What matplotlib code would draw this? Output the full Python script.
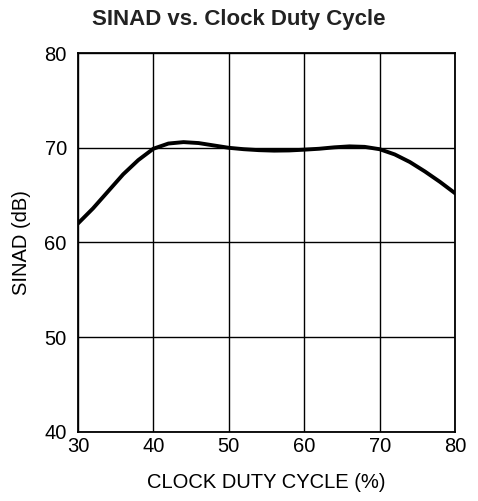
import matplotlib
matplotlib.use("Agg")
import matplotlib.pyplot as plt

# data
duty = [30, 32, 34, 36, 38, 40, 42, 44, 46, 48, 50, 52, 54, 56, 58,
        60, 62, 64, 66, 68, 70, 72, 74, 76, 78, 80]
sinad = [62.0, 63.6, 65.4, 67.2, 68.7, 69.9, 70.45, 70.6, 70.5, 70.25, 70.0,
         69.85, 69.75, 69.7, 69.72, 69.8, 69.9, 70.05, 70.15, 70.1, 69.85,
         69.3, 68.5, 67.5, 66.4, 65.2]
xticks = [30, 40, 50, 60, 70, 80]
yticks = [40, 50, 60, 70, 80]

plt.rcParams['font.family'] = ['Liberation Sans', 'DejaVu Sans']

fig = plt.figure(figsize=(4.78, 5.01), dpi=100)
ax = fig.add_axes([0.163, 0.138, 0.789, 0.756])

ax.plot(duty, sinad, color='black', linewidth=2.8, solid_joinstyle='round')

ax.set_xlim(30, 80)
ax.set_ylim(40, 80)
ax.set_xticks(xticks)
ax.set_yticks(yticks)
ax.grid(True, color='black', linewidth=1.0)
ax.tick_params(length=0, labelsize=14.5, colors='black')
ax.tick_params(axis='x', pad=4)
ax.tick_params(axis='y', pad=8)
for s in ax.spines.values():
    s.set_linewidth(1.3)

ax.set_xlabel('CLOCK DUTY CYCLE (%)', fontsize=14.5, labelpad=12)
ax.set_ylabel('SINAD (dB)', fontsize=14.5, labelpad=10)
fig.text(0.5, 0.962, 'SINAD vs. Clock Duty Cycle', ha='center', va='center',
         fontsize=16, fontweight='bold', color='#222222')

fig.savefig('out.png', dpi=100)
